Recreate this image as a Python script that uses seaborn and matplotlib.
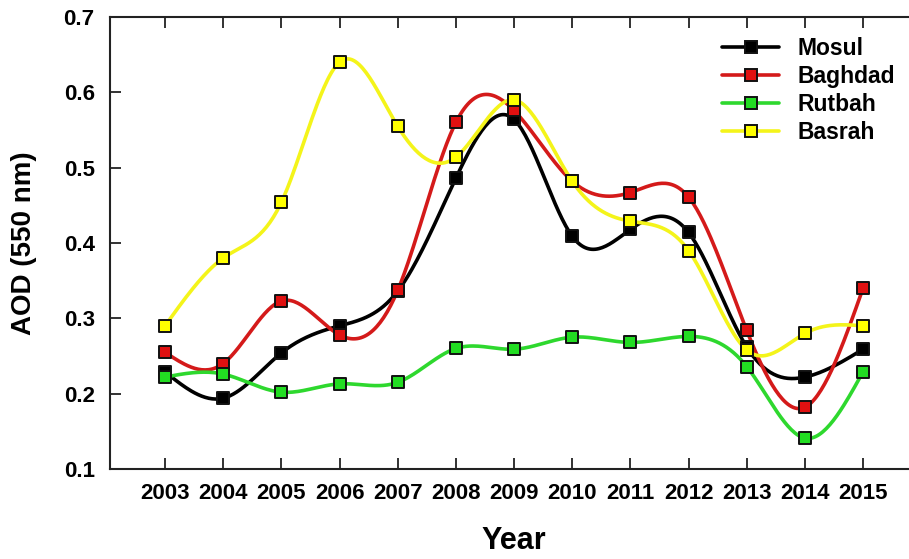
import numpy as np
import pandas as pd
import matplotlib
matplotlib.use("Agg")
import matplotlib.pyplot as plt
from matplotlib.lines import Line2D
import seaborn as sns

years = [2003, 2004, 2005, 2006, 2007, 2008, 2009, 2010, 2011, 2012, 2013, 2014, 2015]
mosul = [0.229, 0.194, 0.254, 0.290, 0.336, 0.486, 0.564, 0.409, 0.418, 0.414, 0.262, 0.222, 0.259]
baghdad = [0.255, 0.240, 0.323, 0.278, 0.337, 0.560, 0.576, 0.482, 0.467, 0.461, 0.284, 0.182, 0.340]
rutbah = [0.222, 0.226, 0.202, 0.213, 0.215, 0.260, 0.259, 0.275, 0.268, 0.276, 0.236, 0.141, 0.229]
basrah = [0.290, 0.380, 0.454, 0.640, 0.555, 0.514, 0.590, 0.482, 0.429, 0.390, 0.258, 0.280, 0.290]

stations = ["Mosul", "Baghdad", "Rutbah", "Basrah"]
line_colors = ["#000000", "#d41a1a", "#2ed82e", "#f4f41a"]
fill_colors = ["#000000", "#e01010", "#22dd22", "#ffff00"]


def natural_spline(x, y, n=400):
    """Smooth curve through the points (natural cubic spline)."""
    x = np.asarray(x, float)
    y = np.asarray(y, float)
    k = len(x)
    h = np.diff(x)
    A = np.zeros((k, k))
    b = np.zeros(k)
    A[0, 0] = A[-1, -1] = 1
    for i in range(1, k - 1):
        A[i, i - 1] = h[i - 1]
        A[i, i] = 2 * (h[i - 1] + h[i])
        A[i, i + 1] = h[i]
        b[i] = 6 * ((y[i + 1] - y[i]) / h[i] - (y[i] - y[i - 1]) / h[i - 1])
    m = np.linalg.solve(A, b)
    xs = np.linspace(x[0], x[-1], n)
    idx = np.clip(np.searchsorted(x, xs) - 1, 0, k - 2)
    x0, x1 = x[idx], x[idx + 1]
    hh = x1 - x0
    t0, t1 = x1 - xs, xs - x0
    ys = (m[idx] * t0 ** 3 + m[idx + 1] * t1 ** 3) / (6 * hh) \
        + (y[idx] / hh - m[idx] * hh / 6) * t0 \
        + (y[idx + 1] / hh - m[idx + 1] * hh / 6) * t1
    return xs, ys


sns.set_style("ticks")
plt.rcParams["font.family"] = ["Liberation Sans", "DejaVu Sans"]
plt.rcParams["font.weight"] = "bold"
plt.rcParams["text.color"] = "black"
plt.rcParams["axes.labelcolor"] = "black"
plt.rcParams["xtick.labelcolor"] = "black"
plt.rcParams["ytick.labelcolor"] = "black"

fig = plt.figure(figsize=(9.09, 5.59), dpi=100)
ax = fig.add_axes([110 / 909, 1 - 469 / 559, 799 / 909, 452 / 559])

series = [mosul, baghdad, rutbah, basrah]
for name, vals, lc, fc in zip(stations, series, line_colors, fill_colors):
    xs, ys = natural_spline(years, vals)
    sns.lineplot(x=xs, y=ys, ax=ax, color=lc, linewidth=2.6, sort=False,
                 estimator=None, legend=False)
for name, vals, lc, fc in zip(stations, series, line_colors, fill_colors):
    df = pd.DataFrame({"year": years, "aod": vals})
    sns.scatterplot(data=df, x="year", y="aod", ax=ax, marker="s", s=75,
                    color=fc, edgecolor="#111111", linewidth=1.4, zorder=5,
                    legend=False)

ax.set_xlim(2003 - 55 / 58.17, 2003 - 55 / 58.17 + 799 / 58.17)
ax.set_ylim(0.1, 0.7)
ax.set_xticks(years)
ax.set_xticklabels([str(y) for y in years])
ax.set_yticks([0.1, 0.2, 0.3, 0.4, 0.5, 0.6, 0.7])
ax.set_yticklabels(["0.1", "0.2", "0.3", "0.4", "0.5", "0.6", "0.7"])
ax.tick_params(axis="x", direction="in", length=8, width=1.3, top=True,
               labelsize=16, pad=10, color="#222222", labelcolor="black")
ax.tick_params(axis="y", direction="in", length=8, width=1.3, right=False,
               labelsize=16, pad=11, color="#222222", labelcolor="black")
for lab in ax.get_xticklabels() + ax.get_yticklabels():
    lab.set_fontweight("bold")

for side in ["left", "bottom", "top"]:
    ax.spines[side].set_linewidth(1.5)
    ax.spines[side].set_color("#222222")
ax.spines["right"].set_visible(False)

ax.set_xlabel("Year", fontsize=22, fontweight="bold", color="black")
ax.xaxis.set_label_coords((514 - 110) / 799, (469 - 541) / 452)
ax.xaxis.label.set_va("center")
ax.set_ylabel("AOD (550 nm)", fontsize=20, fontweight="bold", color="black")
ax.yaxis.set_label_coords((24 - 110) / 799, 0.5)
ax.yaxis.label.set_va("center")

handles = [Line2D([0], [0], color=lc, linewidth=2.6, marker="s", markersize=8,
                  markerfacecolor=fc, markeredgecolor="#111111", markeredgewidth=1.4)
           for lc, fc in zip(line_colors, fill_colors)]
ax.legend(handles, stations, loc="upper left",
          bbox_to_anchor=((722 - 110) / 799, (469 - 37) / 452),
          frameon=False, borderpad=0, borderaxespad=0, handlelength=2.5,
          handletextpad=0.8, labelspacing=0.22,
          prop={"size": 16.5, "weight": "bold"})

fig.savefig("out.png", dpi=100)
